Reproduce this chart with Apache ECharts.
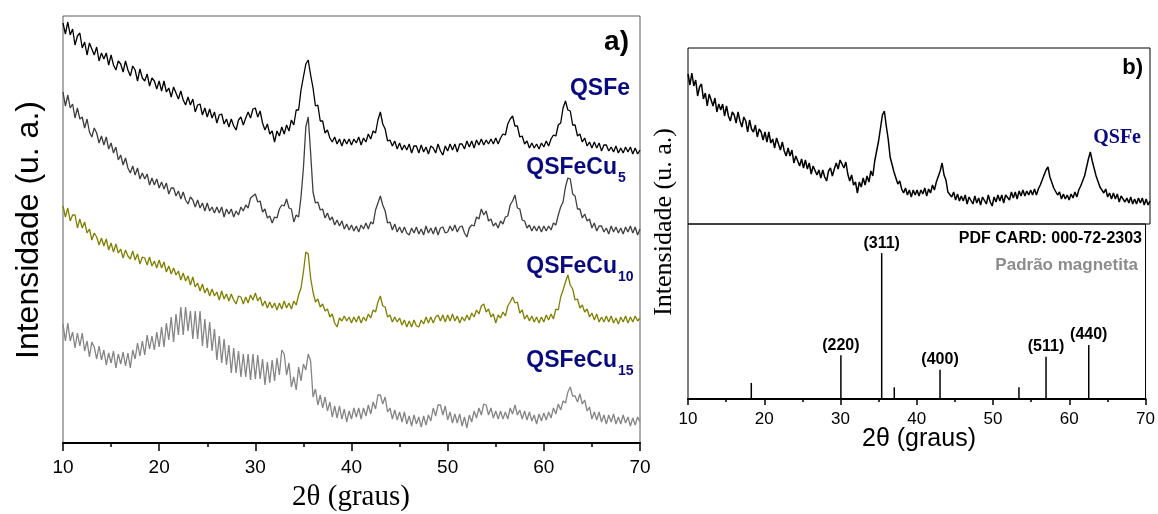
<!DOCTYPE html>
<html><head><meta charset="utf-8">
<script src="https://cdn.jsdelivr.net/npm/echarts@6/dist/echarts.min.js"></script>
<style>html,body{margin:0;padding:0;background:#fff}#c{width:1158px;height:514px}</style>
</head><body><div id="c"></div>
<script>
// 2θ scan: 10° to 70°, step 0.25°
const angleStart = 10, angleStep = 0.25;

// Intensities (a.u.)
const qsfe = [
420,409,421,408,414,398,407,410,395,401,388,400,394,388,396,382,390,384,390,378,
388,378,373,382,379,371,382,373,367,377,373,362,374,365,362,369,357,365,362,354,
362,352,362,351,355,346,356,350,344,352,343,338,346,338,344,331,338,339,328,335,
326,334,325,331,320,328,329,319,324,316,324,317,313,323,326,318,325,331,325,334,
335,326,332,320,313,319,309,312,301,312,307,316,309,318,312,323,318,333,333,353,
366,379,383,368,355,337,338,322,322,310,313,305,301,306,299,304,297,304,299,304,
298,304,300,306,298,305,301,309,304,312,310,323,331,319,314,302,303,297,302,294,
300,293,298,293,299,290,297,297,290,298,291,296,289,297,295,290,299,292,288,297,
292,299,293,299,291,299,299,294,302,296,302,295,303,298,304,298,303,299,304,299,
305,299,305,309,308,319,324,327,317,317,306,307,299,302,295,300,295,299,294,300,
296,302,297,304,308,307,318,320,335,342,333,332,318,318,307,309,301,305,297,301,
295,301,295,300,292,298,298,292,296,291,297,290,295,290,296,291,296,289,295,289,
293];
const qsfeCu5 = [
351,337,348,335,339,325,335,324,326,315,324,311,306,315,310,300,307,298,306,294,
300,290,296,283,288,278,285,275,270,277,268,275,264,270,264,269,258,265,258,264,
255,261,254,260,249,255,255,247,252,244,251,243,239,246,243,236,243,235,240,232,
240,232,236,230,236,230,236,226,234,229,234,226,232,228,236,232,238,235,245,247,
249,241,242,231,234,225,227,220,226,225,234,238,237,244,235,234,221,228,226,246,
275,316,326,290,251,240,241,233,234,225,230,223,226,218,223,217,222,214,219,213,
218,212,217,211,218,214,220,214,221,219,233,240,247,238,232,220,221,213,219,211,
216,210,216,210,208,215,210,216,209,214,208,217,210,215,209,216,208,215,216,210,
211,217,212,218,211,216,217,210,206,215,218,217,226,224,234,228,232,222,224,217,
220,215,222,219,226,227,238,242,248,235,234,223,222,215,218,212,217,212,217,211,
217,212,217,213,220,218,228,236,241,256,265,264,249,247,234,234,225,229,222,224,
215,220,212,217,217,211,215,209,217,211,216,210,215,209,216,211,217,210,216,208,
214];
const qsfeCu10 = [
237,226,235,222,228,228,215,224,215,221,210,214,203,210,206,198,205,197,204,193,
200,191,199,190,194,185,193,187,184,192,183,189,179,186,185,178,186,177,182,175,
183,175,181,171,177,169,175,168,172,163,170,162,167,158,166,156,160,152,159,150,
155,147,154,147,151,143,152,144,149,142,149,143,139,147,146,139,146,140,148,143,
150,142,146,137,142,135,141,135,140,133,140,134,142,135,140,134,142,138,148,155,
171,191,189,165,151,141,144,136,139,132,134,126,129,120,116,125,122,127,122,126,
120,126,121,127,120,126,122,129,125,133,131,141,147,137,136,126,128,121,126,121,
125,118,123,116,122,116,123,117,116,123,119,126,120,126,120,126,128,122,128,121,
128,122,129,122,127,120,126,122,128,123,130,126,133,129,137,139,131,134,126,129,
120,128,125,131,127,137,141,146,140,141,130,133,124,128,122,127,121,126,120,126,
121,128,123,129,124,134,133,146,153,161,168,158,154,143,144,135,138,131,134,126,
130,123,129,121,126,121,127,121,127,120,125,119,126,121,127,120,126,121,127,122,
125];
const qsfeCu15 = [
119,102,120,102,111,95,110,97,110,92,102,86,101,96,84,97,83,93,78,90,
80,92,75,89,79,91,77,90,75,93,84,100,87,102,88,108,94,107,93,111,
96,116,96,120,103,126,101,129,108,136,108,136,112,132,104,132,104,132,97,124,
95,121,92,114,83,107,80,104,78,98,70,95,70,92,66,89,66,89,63,89,
64,88,64,84,58,81,60,83,62,85,68,93,89,68,80,56,66,53,76,62,
79,73,89,82,46,54,38,48,35,46,32,41,26,37,25,37,24,34,21,32,
24,35,26,35,24,35,27,38,29,41,34,48,48,39,46,31,35,24,33,23,
31,21,31,19,27,17,28,19,26,16,27,18,28,22,35,27,38,38,28,37,
23,31,20,29,20,29,17,26,15,28,21,32,25,35,28,39,38,28,35,25,
32,24,32,24,31,24,35,29,38,28,33,24,32,23,31,22,28,19,29,22,
30,23,31,25,35,29,39,33,42,40,51,56,47,47,41,49,39,43,32,36,
24,31,23,31,21,28,19,28,21,29,19,26,19,28,20,26,17,25,18,26,
21];

// Magnetite reference pattern (PDF 000-72-2303)
const stickAngles = [18.3, 30.05, 35.4, 37.05, 43.05, 53.4, 56.95, 62.55];
const stickIntensity = [11, 30, 100, 8, 20, 8, 29, 37];
const stickLabels = ['', '(220)', '(311)', '', '(400)', '', '(511)', '(440)'];

const seriesNames = ['QSFe', 'QSFeCu', 'QSFeCu', 'QSFeCu'];
const seriesSubs = ['', '5', '10', '15'];
const xTicks = [10, 20, 30, 40, 50, 60, 70];

const twoTheta = qsfe.map((_, i) => angleStart + i * angleStep);
const pair = arr => arr.map((v, i) => [twoTheta[i], v]);

const SANS = 'Liberation Sans, Arial, sans-serif';
const SERIF = 'Liberation Serif, Times New Roman, serif';
const NAVY = '#0a0a80';

const chart = echarts.init(document.getElementById('c'), null, {renderer: 'canvas'});

function xAxisCfg(gridIndex, show, fontSize, margin, tickLen) {
  return {
    gridIndex, type: 'value', min: xTicks[0], max: xTicks[xTicks.length - 1], interval: 10,
    show,
    axisLine: {show: true, onZero: false, lineStyle: {color: '#000', width: 2}},
    axisTick: {show: true, inside: false, length: tickLen, lineStyle: {color: '#000', width: 1.5}},
    minorTick: {show: true, splitNumber: 2, length: tickLen / 2, lineStyle: {color: '#000', width: 1.5}},
    axisLabel: {show: true, fontSize, color: '#000', fontFamily: SANS, margin},
    splitLine: {show: false}
  };
}

const lineColors = ['#000000', '#3f3f3f', '#808000', '#858585'];
const panelAData = [qsfe, qsfeCu5, qsfeCu10, qsfeCu15];

const series = panelAData.map((d, k) => ({
  type: 'line', xAxisIndex: 0, yAxisIndex: 0, data: pair(d),
  showSymbol: false, symbol: 'none', sampling: null,
  lineStyle: {color: lineColors[k], width: 1.3}, z: 10 - k
})).reverse();

series.push({
  type: 'line', xAxisIndex: 1, yAxisIndex: 1, data: pair(qsfe),
  showSymbol: false, symbol: 'none',
  lineStyle: {color: '#000', width: 1.5}
});
series.push({
  type: 'bar', xAxisIndex: 2, yAxisIndex: 2,
  data: stickAngles.map((a, i) => [a, stickIntensity[i]]),
  barWidth: 1.5, itemStyle: {color: '#000'},
  label: {show: true, position: 'top', distance: 2, formatter: p => stickLabels[p.dataIndex],
          fontWeight: 'bold', fontSize: 16, fontFamily: SANS, color: '#000'}
});

const labelY = [89, 168, 267, 361];
const graphics = [];
seriesNames.forEach((n, k) => {
  const right = k === 0 ? 630 : 617;
  graphics.push({type: 'text', x: right, y: labelY[k], style: {text: n, fontSize: 23, fontWeight: 'bold',
    fontFamily: SANS, fill: NAVY, textAlign: 'right', textVerticalAlign: 'middle'}});
  if (seriesSubs[k]) graphics.push({type: 'text', x: right + 1, y: labelY[k] + 10, style: {text: seriesSubs[k],
    fontSize: 14, fontWeight: 'bold', fontFamily: SANS, fill: NAVY, textAlign: 'left', textVerticalAlign: 'middle'}});
});
graphics.push(
  {type: 'text', x: 629, y: 42, style: {text: 'a)', fontSize: 28, fontWeight: 'bold', fontFamily: SANS, fill: '#000', textAlign: 'right', textVerticalAlign: 'middle'}},
  {type: 'text', x: 29, y: 230, rotation: Math.PI / 2, style: {text: 'Intensidade (u. a.)', fontSize: 32, fontFamily: SANS, fill: '#000', textAlign: 'center', textVerticalAlign: 'middle'}},
  {type: 'text', x: 351, y: 497, style: {text: '2θ (graus)', fontSize: 29, fontFamily: SERIF, fill: '#000', textAlign: 'center', textVerticalAlign: 'middle'}},
  {type: 'text', x: 1143, y: 68, style: {text: 'b)', fontSize: 22, fontWeight: 'bold', fontFamily: SANS, fill: '#000', textAlign: 'right', textVerticalAlign: 'middle'}},
  {type: 'text', x: 1141, y: 138, style: {text: 'QSFe', fontSize: 20, fontWeight: 'bold', fontFamily: SERIF, fill: NAVY, textAlign: 'right', textVerticalAlign: 'middle'}},
  {type: 'text', x: 1142, y: 239, style: {text: 'PDF CARD: 000-72-2303', fontSize: 16, fontWeight: 'bold', fontFamily: SANS, fill: '#000', textAlign: 'right', textVerticalAlign: 'middle'}},
  {type: 'text', x: 1138, y: 265, style: {text: 'Padrão magnetita', fontSize: 17, fontWeight: 'bold', fontFamily: SANS, fill: '#8c8c8c', textAlign: 'right', textVerticalAlign: 'middle'}},
  {type: 'text', x: 919, y: 439, style: {text: '2θ (graus)', fontSize: 25, fontFamily: SANS, fill: '#000', textAlign: 'center', textVerticalAlign: 'middle'}},
  {type: 'text', x: 664, y: 222, rotation: Math.PI / 2, style: {text: 'Intensidade (u. a.)', fontSize: 26, fontFamily: SERIF, fill: '#000', textAlign: 'center', textVerticalAlign: 'middle'}}
);

chart.setOption({
  animation: false,
  backgroundColor: '#fff',
  grid: [
    {left: 63, top: 16, width: 577, height: 427, show: true, borderColor: '#5a5a5a', borderWidth: 1, containLabel: false},
    {left: 688, top: 48, width: 462, height: 176, show: true, borderColor: '#000', borderWidth: 1},
    {left: 688, top: 224, width: 462, height: 175, show: true, borderColor: '#000', borderWidth: 1}
  ],
  xAxis: [
    xAxisCfg(0, true, 19, 15, 8),
    xAxisCfg(1, false, 16, 12, 6),
    xAxisCfg(2, true, 17, 12, 6)
  ],
  yAxis: [
    {gridIndex: 0, type: 'value', min: 0, max: 427, show: false},
    {gridIndex: 1, type: 'value', min: 270, max: 446, show: false},
    {gridIndex: 2, type: 'value', min: 0, max: 120, show: false}
  ],
  series,
  graphic: graphics
});
</script></body></html>
